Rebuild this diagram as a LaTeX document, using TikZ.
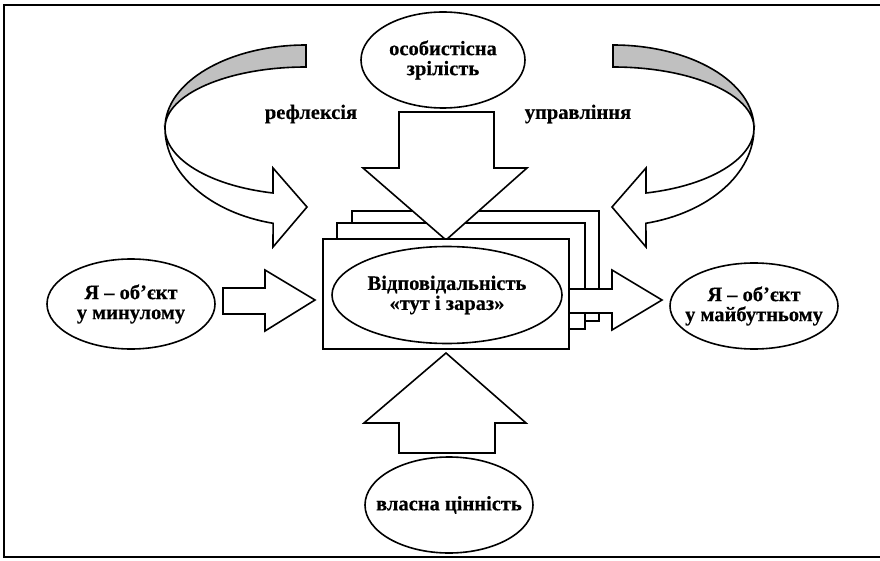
\documentclass[tikz,border=0pt]{standalone}
\usepackage{fontspec}
\setmainfont{Liberation Serif}[BoldFeatures={FakeBold=0.3}]
\usetikzlibrary{shapes.geometric}
\definecolor{ribbongrey}{RGB}{192,192,192}
\tikzset{
  outl/.style={draw=black, line width=1.6pt, line join=miter},
  blockarrow/.style={outl, fill=white},
  oval/.style={ellipse, draw=black, line width=1.6pt, fill=white, inner sep=0pt},
  txt/.style={align=center, inner sep=0pt, font=\fontsize{20.5}{20}\selectfont\bfseries},
  card/.style={outl, fill=white},
  lbl/.style={font=\fontsize{20.5}{20}\selectfont\bfseries, inner sep=0pt}
}
\begin{document}
\begin{tikzpicture}[x=1pt,y=-1pt]
\useasboundingbox (0,0) rectangle (880,561);
\fill[white] (0,0) rectangle (880,561);
\begin{scope}
  \clip (0,0) rectangle (880,561);
  \draw[line width=1.8pt] (4,5) rectangle (900,557);
\end{scope}

% left curved ribbon arrow
\draw[outl, fill=ribbongrey] (306,45) arc[start angle=-90, end angle=-180, x radius=141, y radius=83]
   arc[start angle=180, end angle=270, x radius=141, y radius=61] -- cycle;
\draw[outl, fill=white] (165,128) arc[start angle=180, end angle=103.5, x radius=141, y radius=98]
   -- (273,247) -- (307,207) -- (273,168) -- (273,193)
   arc[start angle=103.5, end angle=180, x radius=141, y radius=67] -- cycle;

% right curved ribbon arrow
\draw[outl, fill=ribbongrey] (613,45) arc[start angle=-90, end angle=0, x radius=141, y radius=83]
   arc[start angle=0, end angle=-90, x radius=141, y radius=61] -- cycle;
\draw[outl, fill=white] (754,128) arc[start angle=0, end angle=76.5, x radius=141, y radius=98]
   -- (646,247) -- (612,207) -- (646,168) -- (646,193)
   arc[start angle=76.5, end angle=0, x radius=141, y radius=67] -- cycle;

\node[lbl] (refl) at (311,114) {рефлексія};
\node[lbl] (upr) at (578,114) {управління};

% stacked cards
\draw[card] (352,211) rectangle (599,321);
\draw[card] (337,223) rectangle (585,329);

% top block arrow
\draw[blockarrow] (399,112) -- (494,112) -- (494,168) -- (527,168) -- (446,240) -- (363,168) -- (399,168) -- cycle;
% right block arrow
\draw[blockarrow] (560,289) -- (612,289) -- (612,270) -- (662,300) -- (612,330) -- (612,313) -- (560,313) -- cycle;

\draw[card] (323,239) rectangle (569,349);

% left block arrow
\draw[blockarrow] (223,288) -- (265,288) -- (265,270) -- (315,300) -- (265,331) -- (265,314) -- (223,314) -- cycle;
% bottom block arrow
\draw[blockarrow] (399,453) -- (495,453) -- (495,423) -- (526,423) -- (446,353) -- (364,423) -- (399,423) -- cycle;

\node[oval, minimum width=164pt, minimum height=96pt] (top) at (443,60) {};
\node[txt] (toptxt) at (top.center) {особистісна\\зрілість};
\node[oval, minimum width=230pt, minimum height=97pt] (centre) at (447,295) {};
\node[txt] (centretxt) at (centre.center) {Відповідальність\\«тут і зараз»};
\node[oval, minimum width=168pt, minimum height=90pt] (past) at (131,304) {};
\node[txt] (pasttxt) at (past.center) {Я – об’єкт\\у минулому};
\node[oval, minimum width=168pt, minimum height=86pt] (future) at (754,306) {};
\node[txt] (futuretxt) at (future.center) {Я – об’єкт\\у майбутньому};
\node[oval, minimum width=168pt, minimum height=96pt] (value) at (449,505) {};
\node[txt] (valuetxt) at (value.center) {власна цінність};
\end{tikzpicture}
\end{document}
